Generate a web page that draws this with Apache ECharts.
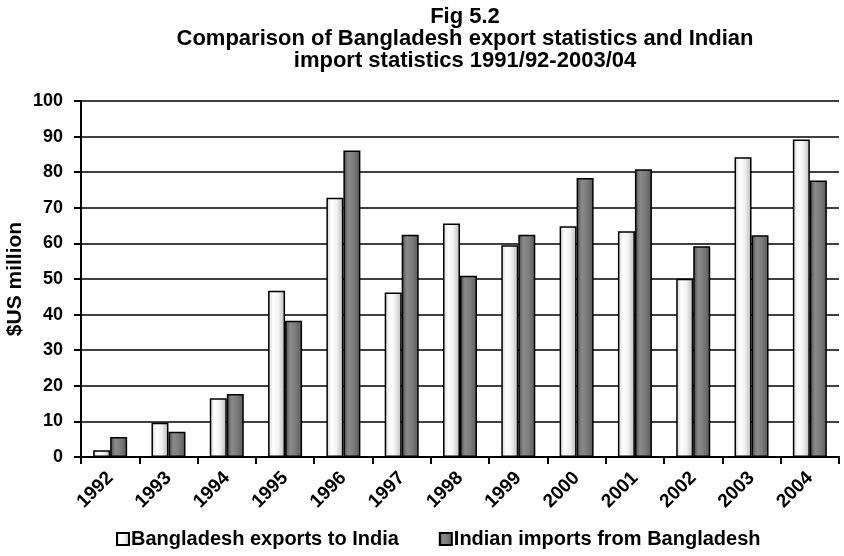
<!DOCTYPE html>
<html>
<head>
<meta charset="utf-8">
<script src="https://cdn.jsdelivr.net/npm/echarts@6/dist/echarts.min.js"></script>
<style>
  html, body { margin: 0; padding: 0; background: #fff; }
  #main { width: 844px; height: 556px; }
</style>
</head>
<body>
<div id="main"></div>
<script>
// values ($US million)
const years = ['1992', '1993', '1994', '1995', '1996', '1997', '1998', '1999', '2000', '2001', '2002', '2003', '2004'];
const bdExports = [1.9, 9.6, 16.5, 46.7, 72.8, 46.2, 65.6, 59.5, 64.8, 63.4, 50.1, 84.2, 89.2];
const inImports = [5.6, 7.1, 17.7, 38.3, 86.1, 62.4, 50.9, 62.4, 78.4, 80.8, 59.2, 62.3, 77.7];
const seriesNames = ['Bangladesh exports to India', 'Indian imports from Bangladesh'];

const font = '"Liberation Sans", Arial, sans-serif';

function grad(stops) {
    return new echarts.graphic.LinearGradient(0, 0, 1, 0, stops.map(c => ({ offset: c[0], color: c[1] })));
}

const lightFill = grad([[0, '#d0d0d0'], [0.3, '#ffffff'], [0.6, '#f2f2f2'], [1, '#b8b8b8']]);
const darkFill = grad([[0, '#4a4a4a'], [0.3, '#8a8a8a'], [0.6, '#7c7c7c'], [1, '#5a5a5a']]);

const myChart = echarts.init(document.getElementById('main'));
myChart.setOption({
    animation: false,
    title: {
        text: 'Fig 5.2\nComparison of Bangladesh export statistics and Indian\nimport statistics 1991/92-2003/04',
        left: 460,
        textAlign: 'center',
        top: 1,
        textStyle: { fontFamily: font, fontWeight: 'bold', fontSize: 22, lineHeight: 22, color: '#000' }
    },
    legend: {
        bottom: 2,
        left: 111,
        itemWidth: 12,
        itemHeight: 12,
        itemGap: 40,
        icon: 'rect',
        textStyle: { fontFamily: font, fontWeight: 'bold', fontSize: 20, color: '#000', padding: [0, 0, 0, -3] },
        data: seriesNames
    },
    grid: { left: 81, right: 5, top: 101, bottom: 99, outerBoundsMode: 'none' },
    xAxis: {
        type: 'category',
        data: years,
        axisLine: { lineStyle: { color: '#000', width: 2 } },
        axisTick: { show: true, length: 7, lineStyle: { color: '#000', width: 2 } },
        axisLabel: { rotate: 45, margin: 18, fontFamily: font, fontWeight: 'bold', fontSize: 19, color: '#000' }
    },
    yAxis: {
        type: 'value',
        min: 0,
        max: 100,
        interval: 10,
        name: '$US million',
        nameLocation: 'middle',
        nameGap: 55,
        nameMoveOverlap: false,
        nameTextStyle: { fontFamily: font, fontWeight: 'bold', fontSize: 21, color: '#000' },
        axisLine: { show: true, lineStyle: { color: '#000', width: 2 } },
        axisTick: { show: true, length: 7, lineStyle: { color: '#000', width: 2 } },
        axisLabel: { margin: 18, fontFamily: font, fontWeight: 'bold', fontSize: 18, color: '#000' },
        splitLine: { lineStyle: { color: '#000', width: 1.5 } }
    },
    series: [
        {
            name: seriesNames[0],
            type: 'bar',
            data: bdExports,
            barWidth: 17,
            barGap: '0%',
            itemStyle: { color: lightFill, borderColor: '#000', borderWidth: 1.5 }
        },
        {
            name: seriesNames[1],
            type: 'bar',
            data: inImports,
            barWidth: 17,
            itemStyle: { color: darkFill, borderColor: '#000', borderWidth: 1.5 }
        }
    ]
});
</script>
</body>
</html>
